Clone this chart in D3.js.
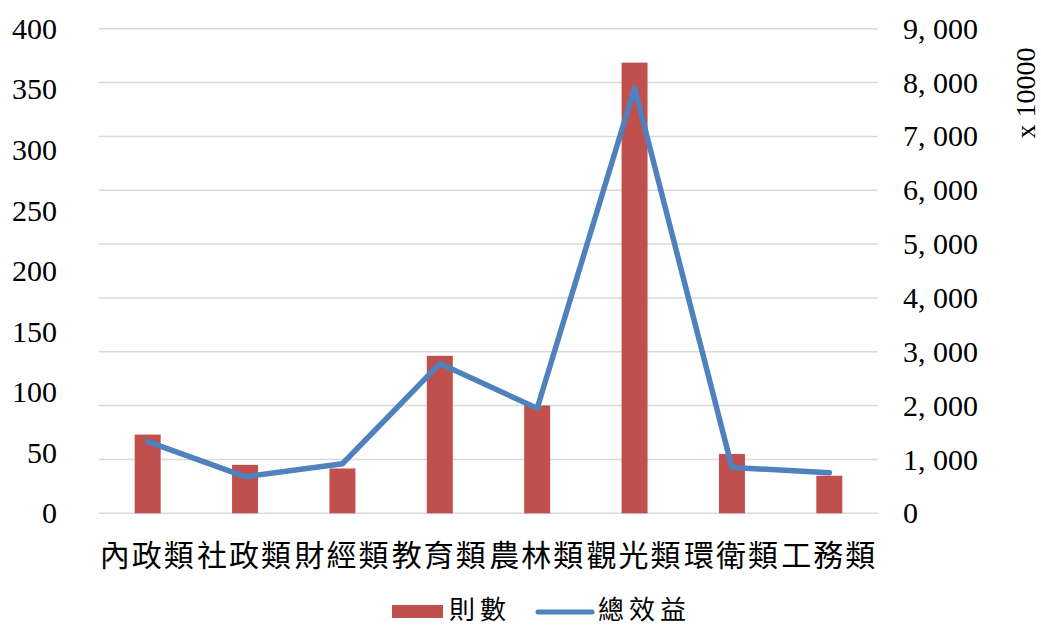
<!DOCTYPE html>
<html>
<head>
<meta charset="utf-8">
<script src="https://cdn.jsdelivr.net/npm/d3@7"></script>
<style>
  html, body { margin: 0; padding: 0; background: #fff; }
  svg text { font-family: "Liberation Serif", "Noto Sans CJK TC", serif; fill: #000; }
</style>
</head>
<body>
<svg id="chart" width="1041" height="626"></svg>
<script>
// ── Data ────────────────────────────────────────────────────────────────
const categories = ['內政類', '社政類', '財經類', '教育類', '農林類', '觀光類', '環衛類', '工務類'];
const counts     = [65, 40, 37, 130, 89, 372, 49, 31];          // 則數 (left axis)
const benefits   = [1330, 680, 920, 2780, 1950, 7900, 850, 755]; // 總效益 x 10000 (right axis)
const leftTicks  = [0, 50, 100, 150, 200, 250, 300, 350, 400];
const rightTicks = [0, 1000, 2000, 3000, 4000, 5000, 6000, 7000, 8000, 9000];

const BAR_COLOR = '#C0504D';
const LINE_COLOR = '#4F81BD';
const GRID_COLOR = '#D9D9D9';

const svg = d3.select('#chart');
const plot = { left: 99, right: 878, top: 28.7, bottom: 513.3 };

const x = d3.scaleBand().domain(categories).range([plot.left, plot.right]);
const yL = d3.scaleLinear().domain([0, 400]).range([plot.bottom, plot.top]);
const yR = d3.scaleLinear().domain([0, 9000]).range([plot.bottom, plot.top]);

// ── Gridlines (right axis) ───────────────────────────────────────────────
svg.append('g')
  .selectAll('line')
  .data(rightTicks)
  .join('line')
  .attr('x1', plot.left).attr('x2', plot.right)
  .attr('y1', d => yR(d)).attr('y2', d => yR(d))
  .attr('stroke', GRID_COLOR)
  .attr('stroke-width', 1.5);

// ── Left axis labels ─────────────────────────────────────────────────────
const leftAxis = d3.axisLeft(yL).tickValues(leftTicks).tickSize(0).tickPadding(0);
const gL = svg.append('g').attr('transform', 'translate(57,0)').call(leftAxis);
gL.select('.domain').remove();
gL.attr('font-size', 30).attr('font-family', '"Liberation Serif", serif');
gL.selectAll('text').attr('fill', '#000');

// ── Right axis labels ────────────────────────────────────────────────────
const rightAxis = d3.axisRight(yR).tickValues(rightTicks).tickSize(0).tickPadding(0)
  .tickFormat(d => d3.format(',')(d).replace(',', ', '));
const gR = svg.append('g').attr('transform', 'translate(903,0)').call(rightAxis);
gR.select('.domain').remove();
gR.attr('font-size', 30).attr('font-family', '"Liberation Serif", serif');
gR.selectAll('text')
  .attr('fill', '#000')
  .style('white-space', 'pre');

svg.append('text')
  .attr('transform', 'translate(1025,93) rotate(-90)')
  .attr('text-anchor', 'middle')
  .attr('dominant-baseline', 'central')
  .attr('font-size', 28)
  .text('x 10000');

// ── Bars ─────────────────────────────────────────────────────────────────
const barW = 26;
svg.append('g')
  .selectAll('rect')
  .data(categories)
  .join('rect')
  .attr('x', d => x(d) + x.bandwidth() / 2 - barW / 2)
  .attr('width', barW)
  .attr('y', (d, i) => yL(counts[i]))
  .attr('height', (d, i) => plot.bottom - yL(counts[i]))
  .attr('fill', BAR_COLOR);

// ── Line ─────────────────────────────────────────────────────────────────
const line = d3.line()
  .x((d, i) => x(categories[i]) + x.bandwidth() / 2)
  .y(d => yR(d));

svg.append('path')
  .attr('d', line(benefits))
  .attr('fill', 'none')
  .attr('stroke', LINE_COLOR)
  .attr('stroke-width', 5.5)
  .attr('stroke-linejoin', 'round')
  .attr('stroke-linecap', 'round');

// ── Category labels ──────────────────────────────────────────────────────
svg.append('g')
  .selectAll('text')
  .data(categories)
  .join('text')
  .attr('x', d => x(d) + x.bandwidth() / 2)
  .attr('y', 553)
  .attr('text-anchor', 'middle')
  .attr('dominant-baseline', 'central')
  .attr('font-size', 30)
  .attr('letter-spacing', 2)
  .style('font-family', '"Noto Sans CJK TC", sans-serif')
  .text(d => d);

// ── Legend ───────────────────────────────────────────────────────────────
const legend = svg.append('g');
legend.append('rect')
  .attr('x', 392).attr('y', 605).attr('width', 51).attr('height', 13)
  .attr('fill', BAR_COLOR);
legend.append('text')
  .attr('x', 449).attr('y', 607)
  .attr('dominant-baseline', 'central')
  .attr('font-size', 26)
  .attr('letter-spacing', 5)
  .style('font-family', '"Noto Sans CJK TC", sans-serif')
  .text('則數');
legend.append('line')
  .attr('x1', 538).attr('x2', 592).attr('y1', 612).attr('y2', 612)
  .attr('stroke', LINE_COLOR)
  .attr('stroke-width', 5)
  .attr('stroke-linecap', 'round');
legend.append('text')
  .attr('x', 598).attr('y', 607)
  .attr('dominant-baseline', 'central')
  .attr('font-size', 26)
  .attr('letter-spacing', 5)
  .style('font-family', '"Noto Sans CJK TC", sans-serif')
  .text('總效益');
</script>
</body>
</html>
